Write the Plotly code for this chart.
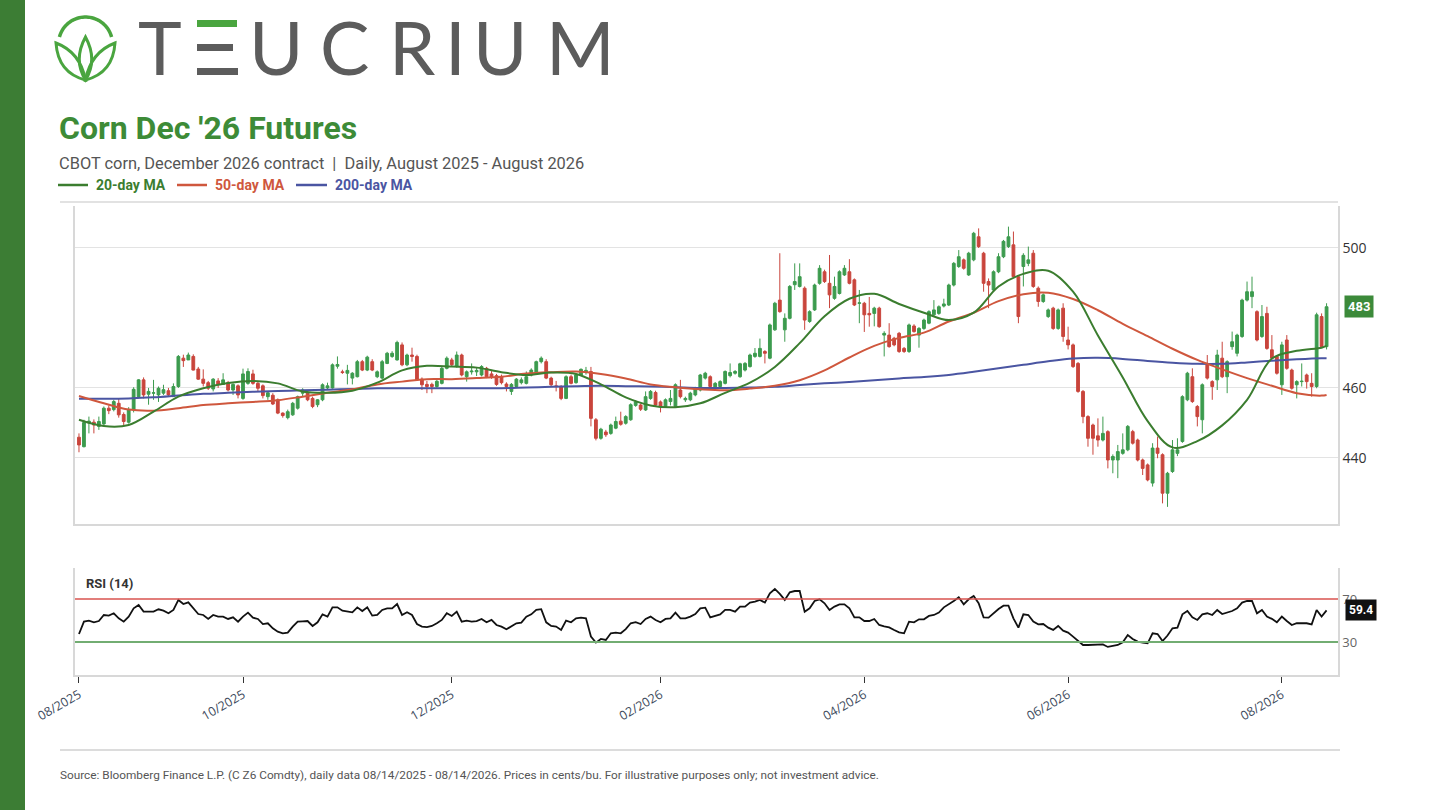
import numpy as np
import pandas as pd
import plotly.graph_objects as go

W, H = 1441, 810

# CBOT holidays inside the window (market closed)
holidays = ["2025-09-01", "2025-11-27", "2025-12-25", "2026-01-01", "2026-01-19",
            "2026-02-16", "2026-04-03", "2026-05-25", "2026-06-19", "2026-07-03"]
dates = [d.strftime("%Y-%m-%d") for d in pd.bdate_range("2025-08-14", "2026-08-14")
         if d.strftime("%Y-%m-%d") not in holidays]

tick_months = ["2025-08", "2025-10", "2025-12", "2026-02", "2026-04", "2026-06", "2026-08"]
tick_labels = ["08/2025", "10/2025", "12/2025", "02/2026", "04/2026", "06/2026", "08/2026"]

open_ = [
    445.9, 443.2, 450.0, 450.2, 449.0, 449.7, 454.2, 453.8, 455.6, 452.4,
    450.2, 453.7, 457.5, 462.3, 458.2, 458.5, 458.0, 458.5, 459.2, 457.5,
    460.4, 468.5, 468.0, 469.0, 465.4, 462.5, 461.5, 459.7, 462.0, 461.0,
    461.5, 459.4, 460.6, 457.0, 461.3, 464.0, 461.3, 460.6, 457.5, 457.9,
    456.6, 452.8, 451.5, 452.3, 454.2, 458.5, 458.5, 457.0, 455.2, 456.6,
    460.0, 460.0, 466.2, 464.6, 464.2, 462.8, 463.2, 467.5, 465.1, 467.5,
    463.2, 462.8, 467.0, 469.0, 468.0, 472.3, 466.6, 469.4, 469.0, 462.5,
    461.0, 461.0, 460.4, 461.3, 465.6, 468.0, 466.1, 469.4, 463.2, 464.6,
    464.6, 463.7, 465.6, 464.0, 463.5, 463.2, 461.1, 459.0, 460.4, 461.5,
    461.3, 463.7, 464.2, 467.5, 467.5, 462.8, 460.6, 460.4, 457.0, 463.2,
    461.5, 463.7, 464.4, 464.7, 450.9, 445.6, 447.4, 447.0, 448.5, 450.5,
    449.9, 450.9, 455.0, 455.1, 453.7, 457.0, 458.7, 456.0, 454.7, 456.1,
    454.7, 459.4, 456.6, 456.6, 458.0, 459.4, 462.8, 463.2, 459.9, 460.4,
    461.3, 463.5, 464.2, 463.2, 465.1, 466.1, 469.0, 469.0, 470.4, 468.5,
    476.6, 485.1, 476.6, 479.9, 489.5, 489.0, 488.5, 479.0, 482.3, 489.9,
    493.2, 489.9, 485.6, 487.0, 492.3, 493.2, 490.9, 484.2, 484.2, 481.3,
    481.3, 482.8, 475.1, 475.1, 474.2, 475.6, 471.3, 470.4, 477.7, 475.1,
    477.0, 478.5, 480.9, 481.3, 483.4, 483.7, 489.4, 494.7, 496.6, 492.3,
    496.6, 503.2, 498.5, 490.4, 488.0, 493.2, 497.5, 500.4, 500.9, 491.8,
    494.7, 495.6, 498.5, 488.5, 484.7, 480.4, 482.8, 477.0, 482.8, 473.7,
    472.3, 467.0, 459.0, 451.8, 449.4, 446.3, 445.1, 447.5, 439.4, 439.4,
    441.3, 442.3, 447.5, 445.1, 439.4, 438.0, 432.8, 442.8, 440.9, 429.9,
    436.1, 441.3, 444.7, 456.6, 463.2, 454.7, 450.9, 466.6, 461.8, 462.3,
    468.5, 463.2, 471.8, 469.9, 474.7, 485.1, 486.1, 481.8, 474.7, 481.3,
    470.9, 469.0, 460.9, 473.7, 465.1, 460.9, 461.8, 463.7, 461.3, 460.4,
    480.4, 471.8,
]
high = [
    447.0, 450.9, 451.8, 451.0, 451.8, 454.7, 455.0, 456.6, 457.0, 453.0,
    454.5, 460.2, 462.5, 463.0, 460.0, 462.3, 460.4, 460.9, 460.0, 461.3,
    469.4, 469.5, 470.1, 469.6, 466.0, 465.3, 462.0, 462.8, 462.8, 464.2,
    462.0, 461.3, 461.0, 465.5, 465.6, 465.2, 462.0, 461.0, 459.0, 458.5,
    457.0, 453.0, 453.8, 456.0, 457.8, 459.9, 459.0, 457.5, 456.8, 461.3,
    461.5, 467.0, 469.0, 465.2, 466.6, 464.5, 468.0, 468.0, 469.2, 468.2,
    465.0, 468.0, 470.3, 470.5, 473.5, 473.0, 469.8, 471.5, 469.5, 463.0,
    462.0, 461.5, 462.3, 466.0, 469.0, 468.6, 470.4, 469.8, 465.0, 467.0,
    466.0, 466.5, 466.0, 464.8, 464.0, 463.8, 461.6, 461.4, 462.8, 463.0,
    464.7, 465.6, 467.8, 469.0, 468.2, 463.2, 462.0, 460.8, 463.6, 463.8,
    464.0, 465.6, 466.0, 466.0, 451.4, 448.6, 448.0, 449.8, 451.8, 453.2,
    452.2, 455.6, 456.5, 455.5, 459.0, 459.4, 459.2, 456.4, 457.0, 459.4,
    461.3, 462.3, 457.5, 458.9, 460.3, 464.0, 464.6, 463.6, 461.7, 462.2,
    465.0, 467.0, 465.1, 467.2, 467.4, 469.8, 471.4, 474.1, 470.8, 478.4,
    484.6, 498.5, 481.3, 489.4, 495.6, 495.6, 489.0, 482.2, 489.8, 495.1,
    493.8, 498.0, 491.8, 493.6, 495.1, 496.8, 491.3, 488.0, 484.6, 486.0,
    483.2, 483.2, 476.2, 478.5, 474.6, 476.0, 471.7, 478.4, 478.2, 477.4,
    479.8, 482.2, 485.1, 483.6, 485.5, 489.8, 496.0, 499.4, 497.0, 498.9,
    504.6, 505.6, 498.9, 491.3, 493.6, 498.5, 502.3, 506.1, 504.7, 492.2,
    498.5, 500.4, 499.4, 489.0, 487.0, 482.7, 483.2, 482.7, 484.2, 477.5,
    472.7, 467.4, 459.4, 452.2, 449.8, 451.3, 451.8, 447.9, 441.0, 443.7,
    447.0, 449.4, 448.0, 445.5, 439.8, 438.4, 444.2, 446.1, 441.3, 436.0,
    445.1, 445.6, 457.9, 464.6, 465.6, 455.1, 461.3, 469.4, 462.2, 470.9,
    473.2, 467.9, 476.1, 475.5, 485.5, 490.4, 491.8, 482.2, 483.7, 483.2,
    475.1, 469.4, 473.2, 475.1, 465.5, 462.2, 467.0, 464.1, 464.2, 481.5,
    481.3, 484.2,
]
low = [
    441.6, 443.0, 447.0, 447.0, 448.0, 449.4, 452.5, 453.3, 451.5, 449.0,
    449.8, 453.0, 457.0, 457.0, 455.2, 456.6, 456.0, 458.0, 457.5, 457.5,
    460.0, 466.0, 468.0, 465.0, 462.3, 460.4, 459.4, 459.0, 460.0, 460.9,
    459.0, 458.0, 457.0, 456.6, 460.9, 460.9, 459.0, 457.0, 456.6, 455.1,
    452.5, 451.5, 451.0, 452.0, 453.8, 457.5, 456.2, 454.2, 454.5, 456.2,
    459.5, 459.8, 465.5, 464.0, 461.0, 461.0, 463.0, 464.8, 464.8, 464.8,
    462.8, 462.5, 466.8, 468.6, 467.8, 466.2, 466.2, 467.5, 462.0, 459.4,
    458.5, 458.5, 460.0, 461.0, 465.3, 466.2, 465.8, 463.3, 461.8, 463.8,
    463.4, 463.3, 462.8, 462.6, 460.6, 461.0, 459.0, 458.0, 460.0, 461.0,
    461.0, 463.3, 463.8, 467.0, 462.5, 460.5, 459.0, 456.5, 456.8, 461.0,
    461.2, 463.4, 463.8, 449.0, 445.0, 445.2, 446.0, 446.6, 448.2, 449.2,
    449.5, 450.6, 454.6, 453.4, 453.4, 456.6, 454.8, 453.0, 454.3, 455.0,
    454.4, 457.0, 456.0, 456.2, 457.6, 459.0, 462.4, 460.0, 459.5, 460.0,
    461.0, 463.0, 463.8, 462.9, 464.7, 465.8, 468.6, 468.7, 467.0, 468.2,
    476.3, 481.5, 473.2, 479.6, 488.0, 488.7, 476.6, 478.6, 482.0, 489.5,
    490.0, 482.8, 485.2, 486.7, 492.0, 489.6, 483.4, 478.5, 476.0, 477.5,
    477.6, 477.2, 469.0, 471.5, 471.9, 470.0, 470.0, 470.0, 475.8, 471.5,
    476.6, 478.2, 480.5, 480.9, 483.0, 483.4, 489.0, 494.3, 493.8, 492.0,
    496.2, 500.0, 487.5, 482.8, 487.6, 492.8, 497.1, 500.0, 491.4, 478.5,
    489.0, 494.8, 488.6, 483.2, 484.3, 480.0, 476.6, 476.6, 473.2, 471.0,
    465.7, 458.6, 449.9, 443.2, 440.9, 443.2, 444.7, 437.0, 435.6, 434.2,
    440.9, 441.9, 443.8, 439.0, 435.1, 433.3, 431.8, 439.9, 427.0, 426.0,
    435.7, 440.5, 444.3, 456.2, 455.7, 449.0, 447.0, 462.4, 456.6, 459.4,
    462.8, 458.5, 470.9, 469.0, 474.3, 484.7, 482.8, 473.3, 474.3, 470.9,
    468.1, 463.8, 458.0, 465.2, 459.5, 457.0, 460.4, 459.8, 457.5, 459.9,
    471.4, 471.0,
]
close = [
    443.7, 450.1, 450.5, 449.4, 450.4, 454.2, 453.5, 456.1, 452.3, 450.4,
    453.7, 459.6, 462.3, 458.0, 459.0, 458.6, 459.9, 459.5, 458.0, 460.4,
    469.0, 467.8, 469.4, 465.1, 462.5, 461.3, 459.9, 462.5, 461.0, 462.3,
    459.4, 461.0, 458.0, 464.0, 464.7, 461.3, 459.9, 457.8, 458.6, 455.4,
    452.8, 452.1, 453.2, 455.6, 457.5, 459.4, 456.6, 454.7, 456.6, 460.9,
    460.6, 466.6, 466.7, 464.4, 465.0, 464.2, 467.5, 465.1, 468.8, 465.1,
    464.6, 467.5, 469.9, 469.9, 473.0, 466.6, 469.4, 469.0, 462.3, 460.9,
    460.4, 460.4, 461.9, 465.6, 468.5, 466.6, 469.4, 463.7, 464.6, 464.8,
    465.0, 466.1, 463.2, 463.0, 461.0, 461.5, 460.4, 461.0, 462.5, 462.3,
    463.2, 465.1, 467.5, 468.5, 462.8, 460.9, 460.4, 457.0, 463.2, 461.3,
    463.7, 465.3, 465.0, 451.3, 445.6, 448.2, 446.6, 449.4, 450.4, 449.6,
    451.8, 455.2, 456.0, 453.9, 457.5, 459.0, 455.1, 454.7, 456.6, 457.0,
    460.9, 457.5, 457.0, 458.5, 459.9, 463.7, 464.2, 460.4, 461.3, 461.8,
    464.7, 464.4, 464.7, 466.9, 467.0, 469.4, 469.9, 471.3, 469.9, 478.0,
    484.2, 481.8, 479.9, 489.0, 490.4, 491.8, 479.4, 481.8, 489.4, 494.2,
    490.4, 486.6, 489.0, 493.2, 494.2, 489.9, 483.7, 484.3, 480.9, 480.9,
    482.8, 477.5, 475.6, 471.8, 472.3, 470.4, 470.4, 478.0, 476.1, 477.0,
    479.4, 481.8, 482.3, 483.2, 484.0, 489.4, 495.6, 497.5, 494.2, 498.5,
    504.2, 500.4, 489.9, 489.4, 493.2, 497.5, 501.9, 503.2, 491.8, 480.4,
    497.9, 496.6, 489.0, 484.7, 486.6, 482.3, 477.0, 482.3, 474.7, 472.3,
    466.1, 459.0, 451.8, 445.6, 445.6, 445.1, 447.0, 439.4, 440.4, 441.8,
    442.3, 449.0, 444.2, 439.4, 437.0, 433.7, 442.8, 441.3, 429.9, 435.6,
    442.3, 442.3, 457.5, 464.2, 456.1, 451.8, 460.9, 462.8, 460.4, 469.4,
    463.2, 467.5, 473.2, 475.1, 485.1, 487.5, 487.5, 473.7, 480.4, 471.3,
    468.5, 464.2, 472.3, 465.6, 459.9, 461.8, 461.9, 461.8, 460.4, 480.9,
    471.8, 483.2,
]

# moving averages read every 5 sessions (session number into `dates`)
ma_days = list(range(0, 251, 5)) + [251]
ma20 = [450.9, 449.1, 449.4, 453.2, 457.5, 459.9, 461.4, 462.0, 461.3, 459.0,
        458.6, 459.2, 461.5, 465.0, 466.3, 466.1, 465.8, 464.5, 463.7, 464.4,
        464.0, 461.0, 457.3, 455.0, 454.5, 455.6, 458.6, 461.5, 466.0, 472.8,
        480.5, 485.5, 486.9, 484.0, 481.5, 479.4, 481.5, 489.0, 492.6, 493.5,
        487.5, 475.0, 463.0, 450.5, 443.0, 444.8, 449.3, 456.6, 468.4, 470.6,
        471.5, 472.0]
ma50 = [457.7, 455.6, 453.8, 453.5, 454.2, 455.1, 455.6, 456.0, 456.5, 457.5,
        458.6, 459.6, 461.0, 461.8, 462.5, 462.5, 462.8, 463.2, 464.1, 464.5,
        464.7, 464.0, 462.7, 461.0, 460.2, 459.6, 459.3, 459.8, 460.6, 462.2,
        465.0, 468.7, 472.0, 474.3, 475.8, 479.0, 481.5, 484.8, 486.8, 487.2,
        485.4, 482.2, 478.3, 474.8, 471.2, 468.0, 465.3, 462.8, 460.6, 458.5,
        457.8, 458.0]
ma200 = [456.9, 456.9, 457.0, 457.3, 457.8, 458.3, 458.6, 458.9, 459.1, 459.3,
         459.5, 459.7, 459.9, 459.9, 459.9, 459.9, 459.9, 459.9, 460.1, 460.3,
         460.5, 460.6, 460.5, 460.4, 460.2, 460.0, 460.0, 460.1, 460.3, 460.8,
         461.3, 461.7, 462.2, 462.7, 463.1, 463.7, 464.6, 465.6, 466.6, 467.6,
         468.4, 468.6, 468.3, 467.7, 467.2, 466.9, 466.9, 467.3, 467.8, 468.2,
         468.5, 468.5]

rsi = [
    37.4, 48.9, 49.8, 48.3, 49.5, 55.1, 54.5, 56.7, 52.0, 48.9,
    53.6, 61.3, 64.4, 58.2, 58.2, 58.2, 60.4, 59.1, 56.7, 59.8,
    69.1, 65.3, 66.9, 61.3, 56.0, 55.1, 51.4, 55.1, 53.6, 53.6,
    51.4, 52.9, 48.9, 53.6, 57.3, 52.6, 51.4, 46.7, 47.4, 42.7,
    39.6, 38.1, 38.7, 44.3, 48.9, 49.2, 49.5, 44.9, 48.3, 55.7,
    53.6, 62.2, 62.2, 59.1, 58.2, 57.6, 62.2, 58.8, 62.2, 54.5,
    55.1, 59.8, 61.3, 61.3, 65.3, 55.1, 57.6, 55.1, 46.7, 44.3,
    43.9, 44.9, 47.5, 50.5, 56.7, 54.2, 58.2, 48.9, 49.8, 48.9,
    49.5, 51.4, 48.3, 50.5, 45.8, 44.3, 41.8, 44.9, 47.4, 48.0,
    53.6, 55.7, 59.8, 60.5, 48.3, 44.9, 44.3, 41.2, 49.8, 48.3,
    52.0, 52.6, 52.0, 35.0, 29.4, 32.8, 31.9, 38.1, 38.7, 38.1,
    42.0, 47.4, 48.5, 46.7, 51.4, 53.6, 50.5, 48.3, 51.4, 52.0,
    57.3, 52.0, 52.0, 53.6, 56.0, 61.3, 61.9, 52.9, 54.5, 55.7,
    59.8, 59.8, 58.2, 62.9, 62.9, 66.6, 67.5, 69.1, 66.6, 75.3,
    79.3, 74.7, 69.1, 76.2, 77.4, 77.4, 58.2, 61.3, 68.1, 69.7,
    66.0, 59.8, 62.9, 65.0, 65.0, 61.3, 52.9, 52.9, 49.5, 49.5,
    51.4, 45.8, 44.5, 43.6, 41.2, 39.0, 38.1, 48.9, 48.3, 51.1,
    51.1, 54.2, 55.1, 57.3, 62.2, 65.0, 68.1, 71.6, 65.0, 69.7,
    72.8, 66.0, 52.9, 52.6, 56.7, 60.7, 63.8, 63.8, 52.0, 43.3,
    55.7, 55.1, 48.9, 46.4, 46.7, 43.3, 41.2, 44.9, 40.5, 38.7,
    35.0, 31.0, 27.2, 27.2, 27.5, 28.1, 27.8, 25.4, 26.5, 27.2,
    29.7, 36.5, 32.8, 30.3, 29.5, 28.8, 38.1, 37.4, 30.9, 36.0,
    42.7, 43.3, 55.7, 58.8, 52.9, 50.5, 55.7, 56.7, 55.1, 59.8,
    56.0, 57.5, 58.8, 61.3, 66.6, 68.1, 68.1, 56.7, 59.8, 53.6,
    51.5, 48.3, 53.6, 49.5, 45.8, 47.4, 47.4, 47.4, 46.4, 59.8,
    53.6, 59.4,
]

GREEN = "#3d8b37"
UP = "#3c9b4e"
DOWN = "#c9453c"
MA20_C = "#3b7d2f"
MA50_C = "#cf573d"
MA200_C = "#4a55a2"
FRAME = "#d8d8d8"
LOGO_G = "#4aa53f"
LOGO_T = "#5c5c5c"


def px(x):
    return x / W


def py(y):
    return 1 - y / H


def pt(x, y):
    return f"{px(x):.5f},{py(y):.5f}"


tickvals = [next(d for d in dates if d.startswith(m)) for m in tick_months]
ma_x = [dates[i] for i in ma_days]

fig = go.Figure()
fig.add_trace(go.Candlestick(
    x=dates, open=open_, high=high, low=low, close=close,
    increasing=dict(line=dict(color=UP, width=1), fillcolor=UP),
    decreasing=dict(line=dict(color=DOWN, width=1), fillcolor=DOWN),
    whiskerwidth=0, showlegend=False, xaxis="x", yaxis="y",
))
for vals, col in [(ma200, MA200_C), (ma50, MA50_C), (ma20, MA20_C)]:
    fig.add_trace(go.Scatter(
        x=ma_x, y=vals, mode="lines", line=dict(color=col, width=2, shape="spline", smoothing=1.0),
        showlegend=False, xaxis="x", yaxis="y", hoverinfo="skip",
    ))
fig.add_trace(go.Scatter(
    x=dates, y=rsi, mode="lines", line=dict(color="#111111", width=1.8),
    showlegend=False, xaxis="x2", yaxis="y2",
))

xr = [-0.8, 253.3]
dom_x = [px(75), px(1338)]
fig.update_layout(
    width=W, height=H, autosize=False,
    margin=dict(l=0, r=0, t=0, b=0, pad=0),
    paper_bgcolor="white", plot_bgcolor="white",
    font=dict(family="Roboto", color="#444"),
    boxgap=0.2,
    xaxis=dict(domain=dom_x, anchor="y", type="category", range=xr, automargin=False,
               showticklabels=False, ticks="", showgrid=False, zeroline=False,
               showline=True, linecolor=FRAME, linewidth=1.5,
               rangeslider=dict(visible=False)),
    yaxis=dict(domain=[py(524), py(206)], anchor="x", range=[421.1, 512], side="right",
               automargin=False, tickvals=[440, 460, 500], showgrid=True,
               gridcolor="#e3e3e3", gridwidth=1,
               zeroline=False, showline=True, mirror=True, linecolor=FRAME, linewidth=1.5,
               ticks="", tickfont=dict(family="Open Sans", size=14, color="#333")),
    xaxis2=dict(domain=dom_x, anchor="y2", type="category", range=xr, automargin=False,
                tickvals=tickvals, ticktext=tick_labels, tickangle=-30,
                ticks="outside", ticklen=6, tickcolor="#333", tickwidth=1,
                showgrid=False, zeroline=False, showline=True, linecolor=FRAME, linewidth=1.5,
                tickfont=dict(family="Open Sans", size=12.5, color="#3d4a5c")),
    yaxis2=dict(domain=[py(675), py(568)], anchor="x2", range=[-0.7, 98.8], side="right",
                automargin=False, tickvals=[30, 70], showgrid=False, zeroline=False,
                showline=True, mirror=True, linecolor=FRAME, linewidth=1.5, ticks="",
                tickfont=dict(family="Open Sans", size=13, color="#666")),
)

shapes = [
    dict(type="rect", xref="paper", yref="paper", x0=0, x1=px(25), y0=0, y1=1,
         fillcolor="#3c7d34", line=dict(width=0), layer="below"),
    dict(type="line", xref="paper", yref="paper", x0=px(60), x1=px(1338), y0=py(202), y1=py(202),
         line=dict(color=FRAME, width=1.5)),
    dict(type="line", xref="paper", yref="paper", x0=px(60), x1=px(1340), y0=py(750), y1=py(750),
         line=dict(color="#dcdcdc", width=2)),
    dict(type="line", xref="paper", yref="y2", x0=px(75), x1=px(1338), y0=70, y1=70,
         line=dict(color="#d9534f", width=1.5)),
    dict(type="line", xref="paper", yref="y2", x0=px(75), x1=px(1338), y0=30, y1=30,
         line=dict(color="#72ad72", width=2)),
]
# legend swatches
for x0, x1, col in [(58, 88, MA20_C), (177, 207, MA50_C), (296, 327, MA200_C)]:
    shapes.append(dict(type="line", xref="paper", yref="paper", x0=px(x0), x1=px(x1),
                       y0=py(185), y1=py(185), line=dict(color=col, width=2.5)))

# logo: stacked bars of the "E"
for (y0, y1, x1, col) in [(20, 27, 237, LOGO_G), (44, 51, 233, LOGO_T), (68, 75, 238, LOGO_T)]:
    shapes.append(dict(type="rect", xref="paper", yref="paper", x0=px(197), x1=px(x1),
                       y0=py(y1), y1=py(y0), fillcolor=col, line=dict(width=0)))
# logo: ring and leaves
ang = np.radians(np.linspace(165, 15, 40))
ring = "M " + " L ".join(pt(85.5 + 27 * np.cos(a), 44 - 27 * np.sin(a)) for a in ang)
shapes.append(dict(type="path", xref="paper", yref="paper", path=ring,
                   line=dict(color=LOGO_G, width=3.5)))
leaves = [
    f"M {pt(85.5, 80)} Q {pt(73, 60)} {pt(85.5, 37)} Q {pt(98, 60)} {pt(85.5, 80)} Z",
    f"M {pt(85.5, 80)} Q {pt(58, 73)} {pt(56, 43)} Q {pt(80, 52)} {pt(85.5, 80)} Z",
    f"M {pt(85.5, 80)} Q {pt(113, 73)} {pt(115, 43)} Q {pt(91, 52)} {pt(85.5, 80)} Z",
]
for p in leaves:
    shapes.append(dict(type="path", xref="paper", yref="paper", path=p,
                       line=dict(color=LOGO_G, width=3)))
fig.update_layout(shapes=shapes)

ann = []


def text(x, y, s, size, color, anchor="left", family="Roboto", **kw):
    ann.append(dict(x=px(x), y=py(y), xref="paper", yref="paper", text=s, showarrow=False,
                    xanchor=anchor, yanchor="middle",
                    font=dict(family=family, size=size, color=color), **kw))


for ch, cx in [("T", 160), ("U", 276), ("C", 344), ("R", 412), ("I", 455), ("U", 500), ("M", 580)]:
    text(cx, 46, ch, 74, LOGO_T, anchor="center", family="Lato")

text(57, 128, "<b>Corn Dec '26 Futures</b>", 32, GREEN)
text(57, 163, "CBOT corn, December 2026 contract  |  Daily, August 2025 - August 2026", 16.4, "#555")
text(94, 185, "<b>20-day MA</b>", 14, MA20_C)
text(213, 185, "<b>50-day MA</b>", 14, MA50_C)
text(333, 185, "<b>200-day MA</b>", 14, MA200_C)
text(84, 583, "<b>RSI (14)</b>", 13, "#333")
text(58, 775, "Source: Bloomberg Finance L.P. (C Z6 Comdty), daily data 08/14/2025 - 08/14/2026. "
     "Prices in cents/bu. For illustrative purposes only; not investment advice.", 11.8, "#555")

ann.append(dict(x=px(1344), y=close[-1], xref="paper", yref="y", text=f"<b>{close[-1]:.0f}</b>",
                showarrow=False, xanchor="left", yanchor="middle", bgcolor="#3c8a3a",
                borderpad=3, font=dict(family="Roboto", size=13, color="white")))
ann.append(dict(x=px(1345), y=rsi[-1], xref="paper", yref="y2", text=f"<b>{rsi[-1]:.1f}</b>",
                showarrow=False, xanchor="left", yanchor="middle", bgcolor="#111111",
                borderpad=3, font=dict(family="Roboto", size=12, color="white")))
fig.update_layout(annotations=ann)

fig.write_html("out.html", config={"displayModeBar": False},
               post_script="document.body.style.margin='0';")
